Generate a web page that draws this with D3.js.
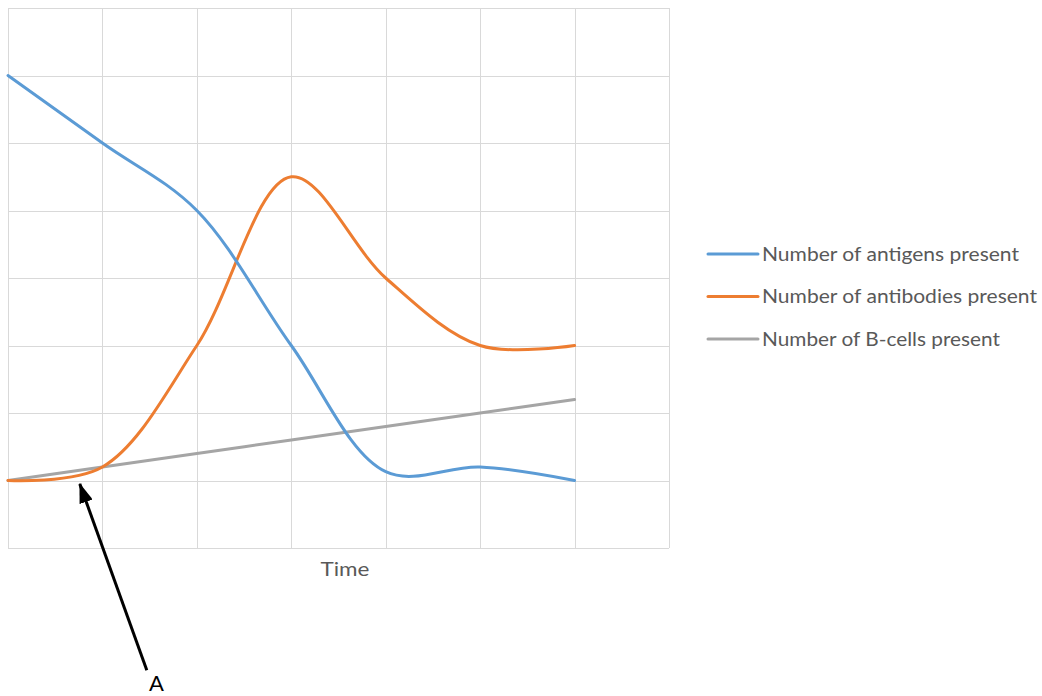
<!DOCTYPE html>
<html>
<head>
<meta charset="utf-8">
<script src="https://cdn.jsdelivr.net/npm/d3@7"></script>
<style>
  html, body { margin: 0; padding: 0; background: #fff; }
  svg { display: block; }
</style>
</head>
<body>
<svg id="chart" width="1042" height="696"></svg>
<script>
// Time steps (category index) and the three series
const timeSteps = [0, 1, 2, 3, 4, 5, 6];
const antigens   = [6, 5, 4, 2, 0.13, 0.2, 0];
const antibodies = [0, 0.2, 2, 4.5, 3, 2, 2];
const bCells     = [0, 0.2, 0.4, 0.6, 0.8, 1.0, 1.2];

const seriesNames  = ["Number of antigens present", "Number of antibodies present", "Number of B-cells present"];
const seriesColors = ["#5b9bd5", "#ed7d31", "#a5a5a5"];
const seriesValues = [antigens, antibodies, bCells];
const legendTextWidths = [257, 275, 238];

const xTicks = [0, 1, 2, 3, 4, 5, 6, 7];
const yTicks = [-1, 0, 1, 2, 3, 4, 5, 6, 7];
const axisTitle = "Time";

// Annotation arrow: tail and tip in data units, plus its label
const arrowTail = { t: 1.47, v: -2.81 };
const arrowTip  = { t: 0.76, v: -0.05 };
const arrowLabel = "A";

const svg = d3.select("#chart");
const plot = { left: 8, right: 669, top: 8, bottom: 548 };
const font = "Lato, 'Open Sans', sans-serif";

const x = d3.scaleLinear().domain([0, 7]).range([plot.left, plot.right]);
const y = d3.scaleLinear().domain([-1, 7]).range([plot.bottom, plot.top]);

// Gridlines
const grid = svg.append("g").attr("stroke", "#d9d9d9").attr("stroke-width", 1);
grid.selectAll("line.v").data(xTicks).join("line")
  .attr("x1", d => Math.round(x(d)) + 0.5).attr("x2", d => Math.round(x(d)) + 0.5)
  .attr("y1", plot.top).attr("y2", plot.bottom);
grid.selectAll("line.h").data(yTicks).join("line")
  .attr("y1", d => Math.round(y(d)) + 0.5).attr("y2", d => Math.round(y(d)) + 0.5)
  .attr("x1", plot.left).attr("x2", plot.right);

// Smoothed series lines
const line = d3.line()
  .x((d, i) => x(timeSteps[i]))
  .y(d => y(d))
  .curve(d3.curveCatmullRom.alpha(0.5));

// Draw order: B-cells, antibodies, antigens (antigens on top)
[2, 1, 0].forEach(k => {
  svg.append("path")
    .datum(seriesValues[k])
    .attr("d", line)
    .attr("fill", "none")
    .attr("stroke", seriesColors[k])
    .attr("stroke-width", 3)
    .attr("stroke-linecap", "round")
    .attr("stroke-linejoin", "round");
});

// Axis title
svg.append("text")
  .attr("x", 345).attr("y", 576)
  .attr("text-anchor", "middle")
  .attr("font-family", font)
  .attr("font-size", 19)
  .attr("fill", "#595959")
  .attr("textLength", 49)
  .attr("lengthAdjust", "spacingAndGlyphs")
  .text(axisTitle);

// Legend
const legend = svg.append("g").attr("transform", "translate(708,254)");
const legendRows = legend.selectAll("g").data(seriesNames).join("g")
  .attr("transform", (d, i) => `translate(0,${i * 42.5})`);
legendRows.append("line")
  .attr("x1", 0).attr("x2", 50).attr("y1", 0).attr("y2", 0)
  .attr("stroke", (d, i) => seriesColors[i])
  .attr("stroke-width", 3)
  .attr("stroke-linecap", "round");
legendRows.append("text")
  .attr("x", 54).attr("y", 0)
  .attr("dy", "0.36em")
  .attr("font-family", font)
  .attr("font-size", 18.5)
  .attr("fill", "#595959")
  .attr("textLength", (d, i) => legendTextWidths[i])
  .attr("lengthAdjust", "spacingAndGlyphs")
  .text(d => d);

// Arrow annotation
const defs = svg.append("defs");
defs.append("marker")
  .attr("id", "arrowhead")
  .attr("viewBox", "0 0 20 14")
  .attr("refX", 19).attr("refY", 7)
  .attr("markerWidth", 20).attr("markerHeight", 14)
  .attr("markerUnits", "userSpaceOnUse")
  .attr("orient", "auto")
  .append("path")
  .attr("d", "M0,0 L20,7 L0,14 Z")
  .attr("fill", "#000");

svg.append("line")
  .attr("x1", x(arrowTail.t)).attr("y1", y(arrowTail.v))
  .attr("x2", x(arrowTip.t)).attr("y2", y(arrowTip.v))
  .attr("stroke", "#000")
  .attr("stroke-width", 3)
  .attr("marker-end", "url(#arrowhead)");

svg.append("text")
  .attr("x", 156.5).attr("y", 691)
  .attr("text-anchor", "middle")
  .attr("font-family", font)
  .attr("font-size", 22)
  .attr("fill", "#000")
  .text(arrowLabel);
</script>
</body>
</html>
